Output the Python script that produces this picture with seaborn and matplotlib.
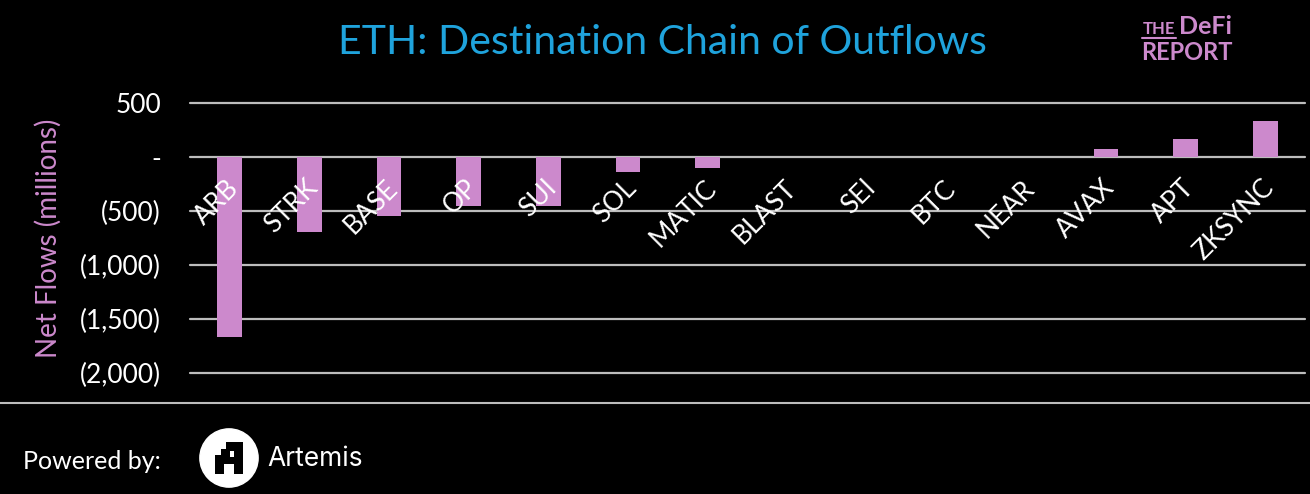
import matplotlib
matplotlib.use("Agg")
import matplotlib.pyplot as plt
import seaborn as sns
from matplotlib.ticker import FuncFormatter
from matplotlib.patches import Circle, Rectangle
from matplotlib.lines import Line2D

# data (USD millions)
chains = ["ARB", "STRK", "BASE", "OP", "SUI", "SOL", "MATIC", "BLAST",
          "SEI", "BTC", "NEAR", "AVAX", "APT", "ZKSYNC"]
net_flows = [-1670, -690, -550, -458, -453, -143, -106, 0,
             0, 0, 0, 77, 164, 333]
y_ticks = [500, 0, -500, -1000, -1500, -2000]

PINK = "#cc89cc"
GRID = "#bdbdbd"
BLUE = "#1fa3dc"

sns.set_theme(style="dark")
plt.rcParams["font.family"] = ["Lato", "DejaVu Sans"]

W, H = 1310, 494
fig = plt.figure(figsize=(W / 100, H / 100), dpi=100, facecolor="black")
ax = fig.add_axes([190 / W, 1 - 373 / H, 1115 / W, 270 / H])
ax.set_facecolor("black")

sns.barplot(x=chains, y=net_flows, color=PINK, saturation=1, width=0.31,
            linewidth=0, edgecolor="none", ax=ax)

ax.set_ylim(-2000, 500)
ax.set_xlim(-0.5, len(chains) - 0.5)
ax.set_yticks(y_ticks)
for t in y_ticks:
    ax.axhline(t, color=GRID, lw=1.6, zorder=0, clip_on=False)


def fmt(v, pos):
    if v == 0:
        return "-"
    if v < 0:
        return "({:,.0f})".format(-v)
    return "{:,.0f}".format(v)


ax.yaxis.set_major_formatter(FuncFormatter(fmt))
ax.tick_params(axis="y", colors="white", labelsize=19, length=0, pad=21)
ax.set_xticks([])
ax.set_xlabel("")
ax.set_ylabel("Net Flows (millions)", color=PINK, fontsize=20, labelpad=13)
for s in ax.spines.values():
    s.set_visible(False)

# category labels sit inside the plot, angled
for i, name in enumerate(chains):
    ax.text(i + 0.06, -250, name, rotation=45, rotation_mode="anchor",
            ha="right", va="center", color="white", fontsize=19)

fig.text(662 / W, 1 - 42 / H, "ETH: Destination Chain of Outflows",
         color=BLUE, fontsize=29.5, ha="center", va="center")

# logo top right
fig.text(1143 / W, 1 - 29 / H, "THE", color=PINK, fontsize=12,
         fontweight="bold", ha="left", va="center")
fig.add_artist(Line2D([1142 / W, 1176 / W], [1 - 38 / H] * 2, color=PINK, lw=1.5))
fig.text(1179 / W, 1 - 27 / H, "DeFi", color=PINK, fontsize=18,
         fontweight="bold", ha="left", va="center")
fig.text(1141 / W, 1 - 52 / H, "REPORT", color=PINK, fontsize=17,
         fontweight="bold", ha="left", va="center")

# separator + footer
fig.add_artist(Line2D([0, 1], [1 - 403 / H] * 2, color=GRID, lw=1.5))
fig.text(23 / W, 1 - 461 / H, "Powered by:", color="white", fontsize=18,
         ha="left", va="center")
lax = fig.add_axes([(229 - 31) / W, 1 - (458 + 31) / H, 62 / W, 62 / H])
lax.set_xlim(0, 1)
lax.set_ylim(0, 1)
lax.axis("off")
lax.add_patch(Circle((0.5, 0.5), 0.47, color="white"))
for (x0, y0, w, h) in [(0.58, 0.25, 0.15, 0.5), (0.45, 0.62, 0.28, 0.13),
                       (0.37, 0.50, 0.14, 0.14), (0.28, 0.25, 0.14, 0.30),
                       (0.28, 0.40, 0.45, 0.11)]:
    lax.add_patch(Rectangle((x0, y0), w, h, color="black", lw=0))
fig.text(267 / W, 1 - 459 / H, "Artemis", color="white", fontsize=19,
         family=["Inter", "DejaVu Sans"], ha="left", va="center")

fig.savefig("out.png", dpi=100, facecolor="black")
